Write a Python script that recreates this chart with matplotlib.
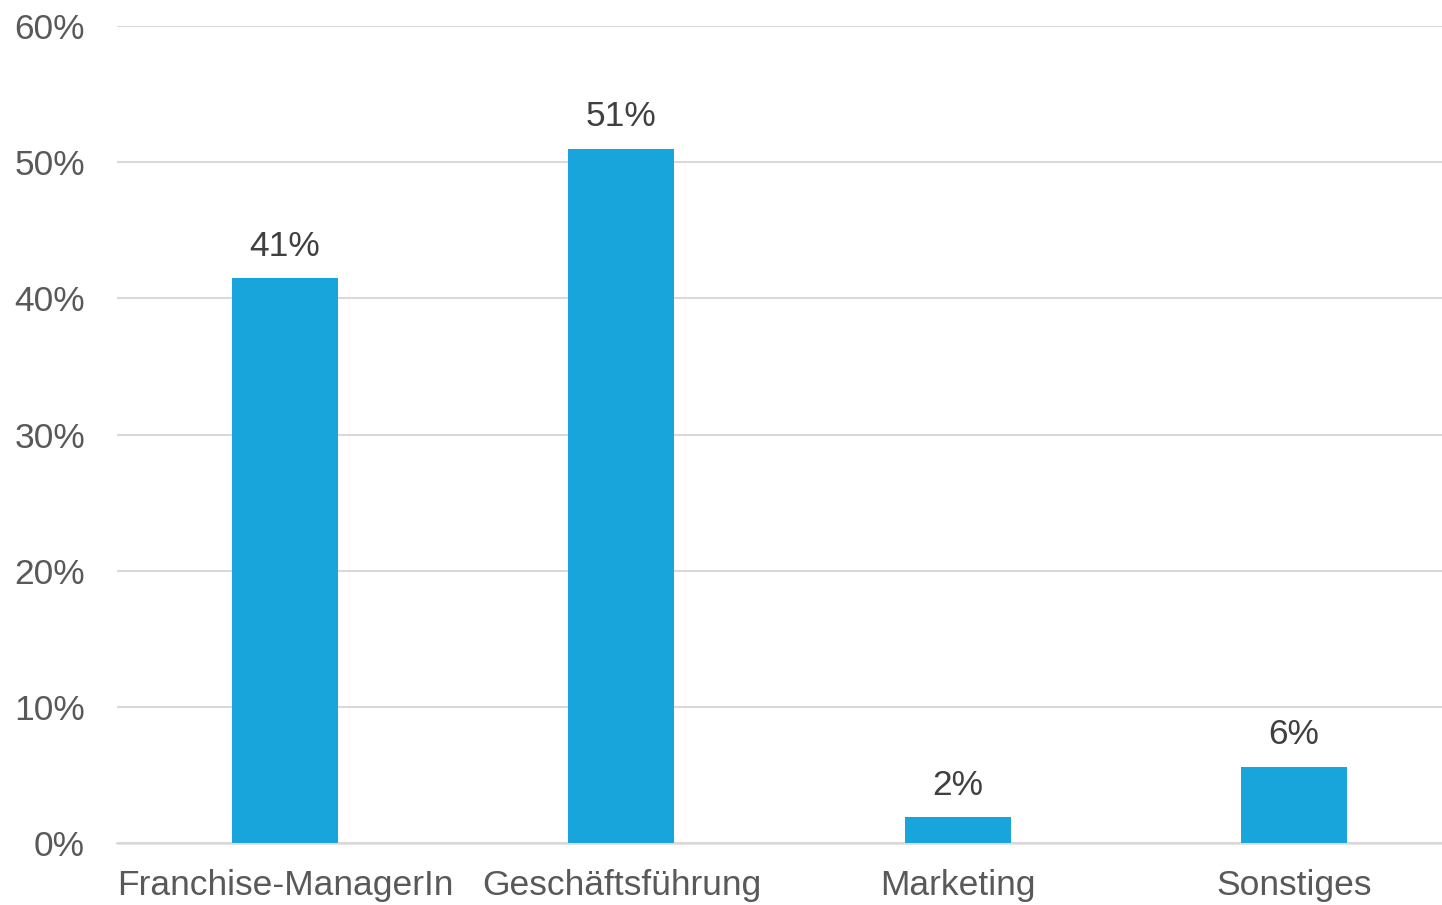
import matplotlib.pyplot as plt
from matplotlib.ticker import PercentFormatter

# Daten
kategorien = ['Franchise-ManagerIn', 'Geschäftsführung', 'Marketing', 'Sonstiges']
werte = [41.5, 51.0, 1.9, 5.6]
beschriftungen = ['41%', '51%', '2%', '6%']

plt.rcParams['font.family'] = ['Liberation Sans', 'DejaVu Sans']

fig = plt.figure(figsize=(14.42, 9.05), dpi=100)
ax = fig.add_axes([117 / 1442, 62 / 905, 1345 / 1442, 817 / 905])

balken = ax.bar(range(len(kategorien)), werte, width=0.315, color='#17A5DC', zorder=3)

# Werte ueber den Balken
for b, txt in zip(balken, beschriftungen):
    ax.annotate(txt, (b.get_x() + b.get_width() / 2, b.get_height()),
                xytext=(0, 11), textcoords='offset points',
                ha='center', va='bottom', fontsize=25.5, color='#404040')

ax.set_xlim(-0.5, 3.5)
ax.set_ylim(0, 60)
ax.set_yticks(range(0, 61, 10))
ax.yaxis.set_major_formatter(PercentFormatter(decimals=0))
ax.set_xticks(range(len(kategorien)))
ax.set_xticklabels(kategorien)

ax.grid(axis='y', color='#D9D9D9', linewidth=1.5, zorder=0)
for s in ['top', 'right', 'left']:
    ax.spines[s].set_visible(False)
ax.spines['bottom'].set_color('#D9D9D9')
ax.spines['bottom'].set_linewidth(1.8)

ax.tick_params(axis='both', length=0, labelsize=25.5, labelcolor='#595959')
ax.tick_params(axis='y', pad=23)
ax.tick_params(axis='x', pad=19)

fig.savefig('out.png', dpi=100)
